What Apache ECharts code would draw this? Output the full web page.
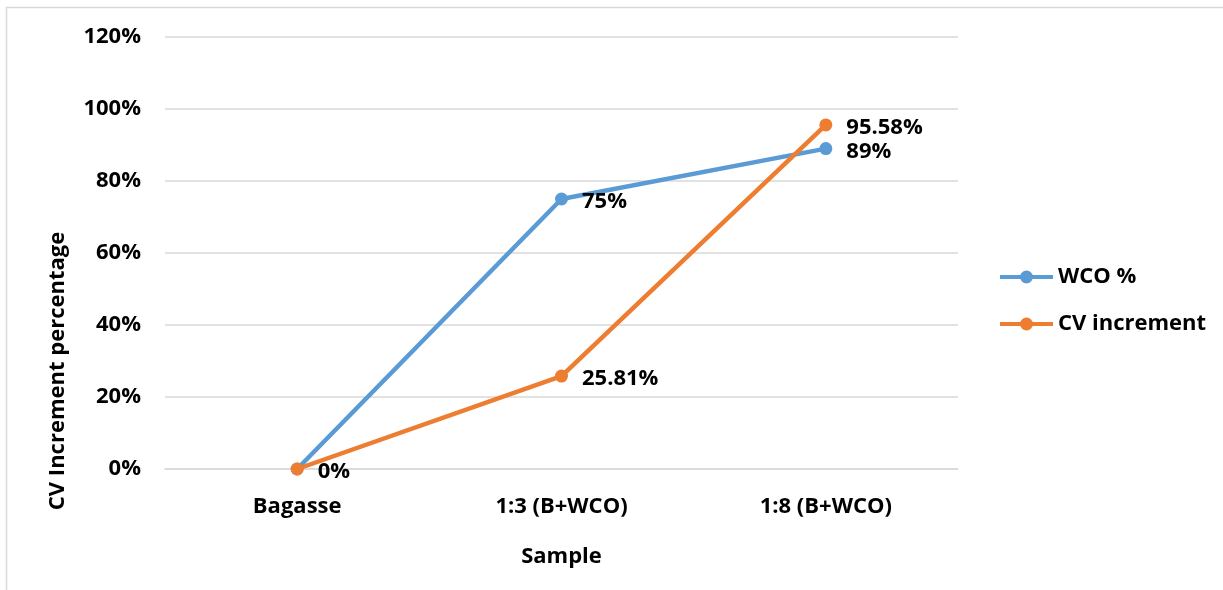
<!DOCTYPE html>
<html>
<head>
<meta charset="utf-8">
<script src="https://cdn.jsdelivr.net/npm/echarts@6/dist/echarts.min.js"></script>
<style>
  html, body { margin: 0; padding: 0; background: #fff; }
  #chart { width: 1223px; height: 590px; }
</style>
</head>
<body>
<div id="chart"></div>
<script>
// Samples on the category axis
const categories = ['Bagasse', '1:3 (B+WCO)', '1:8 (B+WCO)'];
// Percent values for each series
const wcoPercent = [0, 75, 89];
const cvIncrement = [0, 25.81, 95.58];
// Value axis range (percent)
const yMin = 0, yMax = 120, yStep = 20;

const FONT = '"Open Sans", Lato, "Liberation Sans", sans-serif';
const FS = 22;
const BLUE = '#5B9BD5';
const ORANGE = '#ED7D31';

// legend marker: thick line with a dot in the middle
const LINE_DOT_ICON = 'path://M0,5 L53,5 L53,9 L0,9 Z M26.5,0.5 A6.5,6.5 0 1,1 26.5,13.5 A6.5,6.5 0 1,1 26.5,0.5 Z';

const chart = echarts.init(document.getElementById('chart'), null, { renderer: 'canvas' });

const labelStyle = {
  show: true,
  position: 'right',
  distance: 14,
  offset: [0, 3],
  color: '#000',
  fontFamily: FONT,
  fontWeight: 'bold',
  fontSize: FS,
  formatter: p => p.value + '%'
};

chart.setOption({
  animation: false,
  backgroundColor: '#fff',
  graphic: [{
    type: 'rect',
    shape: { x: 6.5, y: 7.5, width: 1300, height: 700 },
    style: { fill: 'none', stroke: '#d9d9d9', lineWidth: 1.5 },
    silent: true,
    z: -10
  }],
  grid: { left: 165, right: 265, top: 37, bottom: 121 },
  legend: {
    orient: 'vertical',
    left: 995,
    top: 261,
    itemWidth: 53,
    itemHeight: 14,
    itemGap: 25,
    textStyle: { color: '#000', fontFamily: FONT, fontWeight: 'bold', fontSize: FS },
    data: [
      { name: 'WCO %', icon: LINE_DOT_ICON, itemStyle: { color: BLUE } },
      { name: 'CV increment', icon: LINE_DOT_ICON, itemStyle: { color: ORANGE } }
    ]
  },
  xAxis: {
    type: 'category',
    data: categories,
    boundaryGap: true,
    name: 'Sample',
    nameLocation: 'middle',
    nameGap: 77,
    nameTextStyle: { color: '#000', fontFamily: FONT, fontWeight: 'bold', fontSize: FS },
    axisLine: { show: true, lineStyle: { color: '#d9d9d9', width: 1.5 } },
    axisTick: { show: false },
    axisLabel: { color: '#000', fontFamily: FONT, fontWeight: 'bold', fontSize: FS, margin: 27 }
  },
  yAxis: {
    type: 'value',
    min: yMin,
    max: yMax,
    interval: yStep,
    name: 'CV Increment percentage',
    nameLocation: 'middle',
    nameGap: 96,
    nameTextStyle: {
      color: '#000', fontFamily: FONT, fontWeight: 'bold', fontSize: FS,
      padding: [0, 236, 0, 0]
    },
    axisLine: { show: false },
    axisTick: { show: false },
    splitLine: { lineStyle: { color: '#d9d9d9', width: 1.5 } },
    axisLabel: {
      color: '#000', fontFamily: FONT, fontWeight: 'bold', fontSize: FS, margin: 24,
      formatter: v => v + '%'
    }
  },
  series: [
    {
      name: 'WCO %',
      type: 'line',
      data: wcoPercent.map((v, i) => i === 0 ? { value: v, label: { show: false } } : v),
      symbol: 'circle',
      symbolSize: 13,
      lineStyle: { color: BLUE, width: 4.5 },
      itemStyle: { color: BLUE },
      label: labelStyle,
      z: 2
    },
    {
      name: 'CV increment',
      type: 'line',
      data: cvIncrement,
      symbol: 'circle',
      symbolSize: 13,
      lineStyle: { color: ORANGE, width: 4.5 },
      itemStyle: { color: ORANGE },
      label: labelStyle,
      z: 3
    }
  ]
});
</script>
</body>
</html>
